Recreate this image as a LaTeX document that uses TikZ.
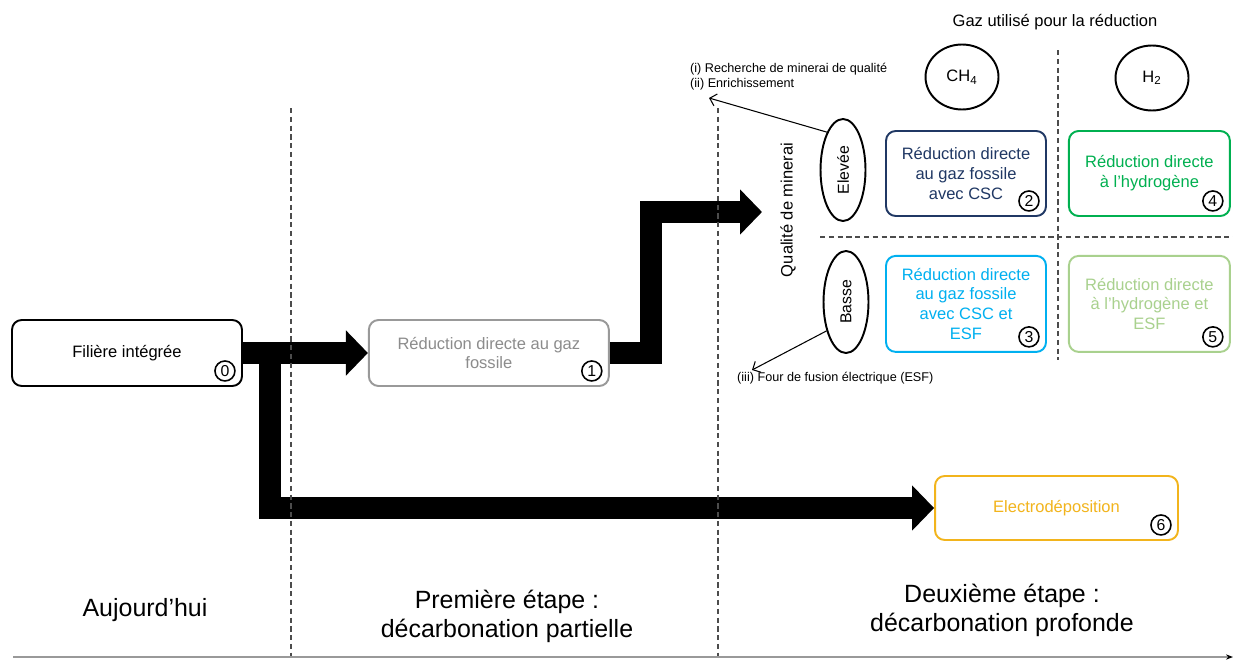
\documentclass[tikz,border=0pt]{standalone}
\usepackage{fontspec}
\setmainfont{Liberation Sans}
\usetikzlibrary{arrows.meta,positioning,shapes.geometric,calc}
\definecolor{ironnavy}{HTML}{203864}
\definecolor{skyblue}{HTML}{00B0F0}
\definecolor{leafgreen}{HTML}{00B050}
\definecolor{palegreen}{HTML}{A9D18E}
\definecolor{gold}{HTML}{F2B41C}
\definecolor{ash}{HTML}{999999}
\definecolor{ashtext}{HTML}{8C8C8C}
\newcommand{\stagenum}[2]{\node[numc] (n#2) at ([xshift=-0.36cm,yshift=0.32cm]#1.south east) {#2};}
\tikzset{
  box/.style={rectangle, rounded corners=5.5pt, draw=black, fill=white, line width=1.1pt,
              align=center, inner sep=2pt, font=\fontsize{9.4}{11.3}\selectfont},
  fossilbox/.style={box, draw=ash, text=ashtext},
  ccsbox/.style={box, draw=ironnavy, text=ironnavy},
  esfbox/.style={box, draw=skyblue, text=skyblue},
  hydbox/.style={box, draw=leafgreen, text=leafgreen},
  hydesfbox/.style={box, draw=palegreen, text=palegreen},
  elecbox/.style={box, draw=gold, text=gold},
  numc/.style={circle, draw=black, fill=white, line width=0.9pt, inner sep=0pt,
               minimum size=0.4cm, font=\fontsize{9}{9}\selectfont},
  gasc/.style={ellipse, draw=black, line width=1.1pt, minimum width=1.46cm,
               minimum height=1.3cm, font=\fontsize{9.4}{11}\selectfont},
  gradec/.style={ellipse, draw=black, line width=1.1pt, rotate=90, minimum width=2.04cm,
                 minimum height=0.9cm, font=\fontsize{9}{11}\selectfont},
  stage/.style={align=center, font=\fontsize{14.2}{16.4}\selectfont},
  lbl/.style={font=\fontsize{9.4}{11}\selectfont},
  note/.style={align=left, font=\fontsize{7.2}{8.5}\selectfont},
  bigarrow/.style={draw=black, line width=12.5pt, line join=miter,
                   -{Triangle[length=12.5pt,width=25pt]}},
  thin/.style={draw=black, line width=0.6pt, -{Straight Barb[length=3.5pt,width=7pt]}},
  sep/.style={draw=black!70, line width=0.7pt, dash pattern=on 3pt off 2pt},
  axis/.style={draw=black!40, line width=0.8pt, -{Stealth[length=4pt,color=black]}}
}
\begin{document}
\begin{tikzpicture}[x=0.02cm, y=-0.02cm]
  \useasboundingbox[fill=white] (0,0) rectangle (1233,659);
  % boxes of the three stages
  \node[box, minimum width=4.6cm, minimum height=1.32cm] (b0) at (127,353) {Filière intégrée};
  \node[fossilbox, minimum width=4.8cm, minimum height=1.32cm, right=2.5cm of b0] (b1) {Réduction directe au gaz\\fossile};
  \node[ccsbox, minimum width=3.2cm, minimum height=1.7cm] (b2) at (966,173.5) {Réduction directe\\au gaz fossile\\avec CSC};
  \node[hydbox, minimum width=3.22cm, minimum height=1.7cm, right=0.42cm of b2] (b4) {Réduction directe\\à l’hydrogène};
  \node[esfbox, minimum width=3.2cm, minimum height=1.92cm, below=0.76cm of b2] (b3) {Réduction directe\\au gaz fossile\\avec CSC et\\ESF};
  \node[hydesfbox, minimum width=3.22cm, minimum height=1.92cm, below=0.76cm of b4] (b5) {Réduction directe\\à l’hydrogène et\\ESF};
  \node[elecbox, minimum width=4.86cm, minimum height=1.28cm] (b6) at (1056.5,508) {Electrodéposition};
  \foreach \b/\n in {b0/0, b1/1, b2/2, b3/3, b4/4, b5/5, b6/6} {\stagenum{\b}{\n}}
  % gas and ore quality
  \node[lbl] (gas) at (1055,22) {Gaz utilisé pour la réduction};
  \node[gasc] (ch4) at (962,77) {CH\textsubscript{4}};
  \node[gasc] (h2) at (1152,78) {H\textsubscript{2}};
  \node[gradec] (elev) at (843,170) {Elevée};
  \node[gradec] (basse) at (846,302) {Basse};
  \node[lbl, rotate=90] (qual) at (788,210) {Qualité de minerai};
  \node[note, anchor=west] (enrichtxt) at (684,76.5) {(i) Recherche de minerai de qualité\\(ii) Enrichissement};
  \node[note, anchor=west] (esftxt) at (731,378) {(iii) Four de fusion électrique (ESF)};
  \coordinate (enrich) at (709,98);
  \coordinate (esf) at (752,370);
  \draw[thin] (elev.23) -- (enrich);
  \draw[thin] (basse.146) -- (esf);
  % pathways
  \coordinate (split) at (270,353);
  \coordinate (target) at (762,212);
  \draw[bigarrow] (b0.east) -- (b1.west);
  \draw[bigarrow] (split) |- (b6.west);
  \draw[bigarrow] (b1.east) -- ++(41,0) |- (target);
  % separators
  \draw[sep] (291,108) -- (291,659);
  \draw[sep] (718,108) -- (718,659);
  \draw[sep] (1058,50) -- (1058,360);
  \draw[sep] (820,237) -- (1233,237);
  % time line
  \coordinate (t0) at (13,657);
  \coordinate (t1) at (1233,657);
  \draw[axis] (t0) -- (t1);
  \node[stage] (today) at (145,610) {Aujourd’hui};
  \node[stage] (first) at (507,616) {Première étape :\\décarbonation partielle};
  \node[stage] (second) at (1002,610.5) {Deuxième étape :\\décarbonation profonde};
\end{tikzpicture}
\end{document}
